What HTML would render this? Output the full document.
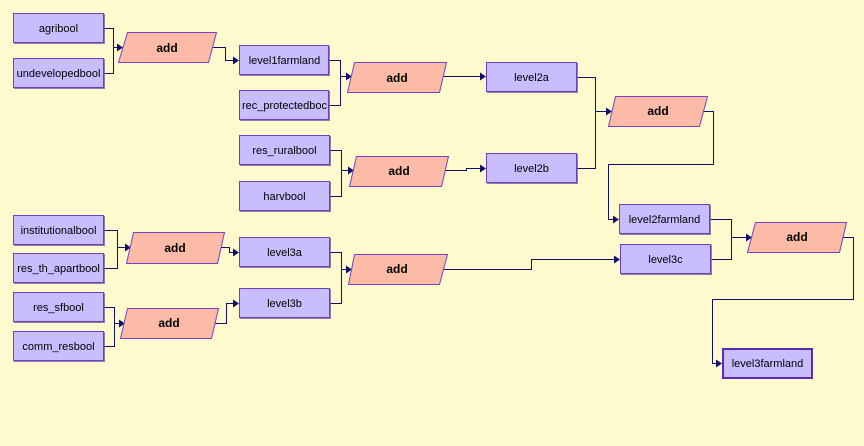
<!DOCTYPE html>
<html><head><meta charset="utf-8"><style>
html,body{margin:0;padding:0;background:#FFFACD;}
svg{display:block;}
text{font-family:"Liberation Sans",sans-serif;}
</style></head><body>
<svg width="864" height="446" viewBox="0 0 864 446" xmlns="http://www.w3.org/2000/svg">
<rect x="0" y="0" width="864" height="446" fill="#FFFACD"/>
<defs>
<g id="ah"><path d="M0,0 L-6,-4 L-6,4 Z" fill="#10106a"/></g>
</defs>
<g fill="none" stroke="#10106a" stroke-width="1">
<!-- group 1 -->
<polyline points="104.5,28.5 113.5,28.5 113.5,47.5 120,47.5"/>
<polyline points="104.5,73.5 113.5,73.5 113.5,47.5"/>
<polyline points="213,47.5 225.5,47.5 225.5,60.5 237,60.5"/>
<polyline points="329.5,60.5 340.5,60.5 340.5,76.5 349,76.5"/>
<polyline points="329.5,105.5 340.5,105.5 340.5,76.5"/>
<polyline points="443,76.5 484,76.5"/>
<polyline points="330.5,150.5 341.5,150.5 341.5,170.5 351,170.5"/>
<polyline points="330.5,196.5 341.5,196.5 341.5,170.5"/>
<polyline points="445,170.5 466.5,170.5 466.5,168.5 484,168.5"/>
<polyline points="577.5,77.5 595.5,77.5 595.5,111.5 609,111.5"/>
<polyline points="577.5,168.5 595.5,168.5 595.5,111.5"/>
<polyline points="703,111.5 713.5,111.5 713.5,164.5 608.5,164.5 608.5,219.5 617,219.5"/>
<!-- lower left -->
<polyline points="104.5,230.5 117.5,230.5 117.5,247.5 128,247.5"/>
<polyline points="104.5,268.5 117.5,268.5 117.5,247.5"/>
<polyline points="221,247.5 229.5,247.5 229.5,252.5 237,252.5"/>
<polyline points="104.5,307.5 114.5,307.5 114.5,323.5 122,323.5"/>
<polyline points="104.5,346.5 114.5,346.5 114.5,323.5"/>
<polyline points="214,323.5 226.5,323.5 226.5,303.5 237,303.5"/>
<polyline points="330.5,252.5 341.5,252.5 341.5,269.5 349,269.5"/>
<polyline points="330.5,303.5 341.5,303.5 341.5,269.5"/>
<polyline points="443,269.5 531.5,269.5 531.5,259.5 618,259.5"/>
<polyline points="710.5,219.5 731.5,219.5 731.5,237.5 749,237.5"/>
<polyline points="711.5,259.5 731.5,259.5 731.5,237.5"/>
<polyline points="843,237.5 853.5,237.5 853.5,299.5 712.5,299.5 712.5,363.5 720,363.5"/>
</g>
<!-- arrowheads -->
<use href="#ah" x="123" y="47.5"/>
<use href="#ah" x="239" y="60.5"/>
<use href="#ah" x="352" y="76.5"/>
<use href="#ah" x="486" y="76.5"/>
<use href="#ah" x="354" y="170.5"/>
<use href="#ah" x="486" y="168.5"/>
<use href="#ah" x="612" y="111.5"/>
<use href="#ah" x="619" y="219.5"/>
<use href="#ah" x="131" y="247.5"/>
<use href="#ah" x="239" y="252.5"/>
<use href="#ah" x="125" y="323.5"/>
<use href="#ah" x="239" y="303.5"/>
<use href="#ah" x="352" y="269.5"/>
<use href="#ah" x="620" y="259.5"/>
<use href="#ah" x="752" y="237.5"/>
<use href="#ah" x="722" y="363.5"/>

<!-- boxes -->
<g stroke="#6A40C0" stroke-width="1" fill="#C8BEFF">
<rect x="13.5" y="13.5" width="90" height="29"/>
<rect x="13.5" y="58.5" width="90" height="29"/>
<rect x="239.5" y="45.5" width="89" height="29"/>
<rect x="239.5" y="90.5" width="89" height="29"/>
<rect x="239.5" y="135.5" width="90" height="29"/>
<rect x="239.5" y="181.5" width="90" height="29"/>
<rect x="486.5" y="62.5" width="90" height="29"/>
<rect x="486.5" y="153.5" width="90" height="29"/>
<rect x="13.5" y="215.5" width="90" height="29"/>
<rect x="13.5" y="253.5" width="90" height="29"/>
<rect x="13.5" y="292.5" width="90" height="29"/>
<rect x="13.5" y="331.5" width="90" height="29"/>
<rect x="239.5" y="237.5" width="90" height="29"/>
<rect x="239.5" y="288.5" width="90" height="29"/>
<rect x="619.5" y="204.5" width="90" height="29"/>
<rect x="620.5" y="244.5" width="90" height="29"/>
</g>
<rect x="723" y="349" width="89" height="29" fill="#C8BEFF" stroke="#5A2CB0" stroke-width="2"/>
<!-- shadows -->
<g stroke="#4B2C8C" stroke-width="1" fill="none" opacity="0.6">
<polyline points="104.5,14 104.5,43.5 14,43.5"/>
<polyline points="104.5,59 104.5,88.5 14,88.5"/>
<polyline points="329.5,46 329.5,75.5 240,75.5"/>
<polyline points="329.5,91 329.5,120.5 240,120.5"/>
<polyline points="330.5,136 330.5,165.5 240,165.5"/>
<polyline points="330.5,182 330.5,211.5 240,211.5"/>
<polyline points="577.5,63 577.5,92.5 487,92.5"/>
<polyline points="577.5,154 577.5,183.5 487,183.5"/>
<polyline points="104.5,216 104.5,245.5 14,245.5"/>
<polyline points="104.5,254 104.5,283.5 14,283.5"/>
<polyline points="104.5,293 104.5,322.5 14,322.5"/>
<polyline points="104.5,332 104.5,361.5 14,361.5"/>
<polyline points="330.5,238 330.5,267.5 240,267.5"/>
<polyline points="330.5,289 330.5,318.5 240,318.5"/>
<polyline points="710.5,205 710.5,234.5 620,234.5"/>
<polyline points="711.5,245 711.5,274.5 621,274.5"/>
</g>

<!-- parallelograms -->
<g stroke="#7A40C8" stroke-width="1" fill="#FBBBA6">
<polygon points="127.5,32.5 216.5,32.5 208.5,62.5 118.5,62.5"/>
<polygon points="354.5,62.5 446.5,62.5 439.5,92.5 347.5,92.5"/>
<polygon points="356.5,156.5 448.5,156.5 441.5,186.5 349.5,186.5"/>
<polygon points="615.5,96.5 707.5,96.5 699.5,126.5 608.5,126.5"/>
<polygon points="133.5,232.5 224.5,232.5 217.5,263.5 126.5,263.5"/>
<polygon points="127.5,308.5 218.5,308.5 211.5,338.5 120.5,338.5"/>
<polygon points="354.5,254.5 447.5,254.5 439.5,284.5 348.5,284.5"/>
<polygon points="755.5,222.5 846.5,222.5 839.5,252.5 747.5,252.5"/>
</g>

<!-- labels -->
<g font-size="11" fill="#000" text-anchor="middle">
<text x="58.5" y="32">agribool</text>
<text x="58.5" y="77">undevelopedbool</text>
<text x="284.5" y="64">level1farmland</text>
<text x="284.5" y="109">rec_protectedboc</text>
<text x="284.5" y="154">res_ruralbool</text>
<text x="284.5" y="200">harvbool</text>
<text x="531.5" y="81">level2a</text>
<text x="531.5" y="172">level2b</text>
<text x="58.5" y="234">institutionalbool</text>
<text x="58.5" y="272">res_th_apartbool</text>
<text x="58.5" y="311">res_sfbool</text>
<text x="58.5" y="350">comm_resbool</text>
<text x="284.5" y="256">level3a</text>
<text x="284.5" y="307">level3b</text>
<text x="664.5" y="223">level2farmland</text>
<text x="665.5" y="263">level3c</text>
<text x="767.5" y="367">level3farmland</text>
</g>
<g font-size="12" font-weight="bold" fill="#000" text-anchor="middle">
<text x="167" y="52">add</text>
<text x="397" y="82">add</text>
<text x="399" y="175">add</text>
<text x="658" y="115">add</text>
<text x="175" y="252">add</text>
<text x="169" y="327">add</text>
<text x="397" y="273">add</text>
<text x="797" y="241">add</text>
</g>
</svg>
</body></html>
